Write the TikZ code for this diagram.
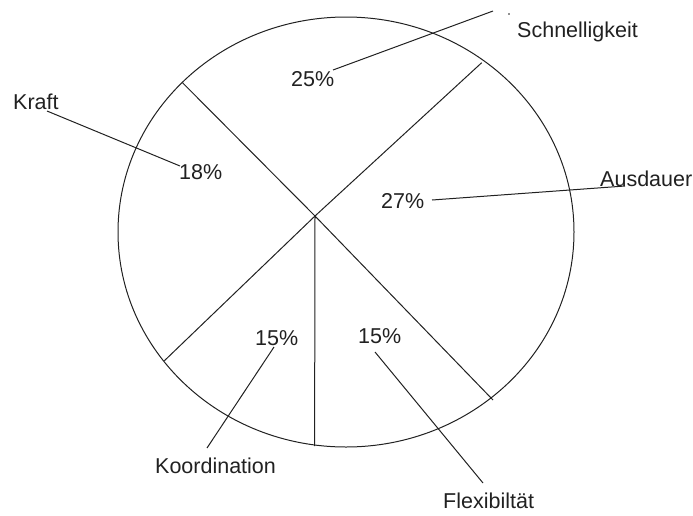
\documentclass[tikz,border=0pt]{standalone}
\usepackage{fontspec}
\setmainfont{Liberation Sans}
\usepackage{tikz}
\usetikzlibrary{positioning, calc}
\definecolor{inkgray}{rgb}{0.13,0.13,0.13}
\tikzstyle{lbl}=[%
      inner sep=0pt, anchor=base west, text=inkgray,
      font=\fontsize{21.5}{25}\selectfont
]
\tikzstyle{pct}=[%
      inner sep=0pt, anchor=base west, text=inkgray,
      font=\fontsize{21.5}{25}\selectfont
]
\tikzstyle{spoke}=[draw=inkgray, line width=1pt]
\tikzstyle{leader}=[draw=inkgray, line width=1pt]

\begin{document}
\begin{tikzpicture}[x=1pt, y=-1pt]
    \useasboundingbox (0,0) rectangle (693,515);

    % rim and spokes
    \draw[spoke] (346,232) ellipse [x radius=228pt, y radius=215pt];
    \coordinate (mid) at (315,216);
    \coordinate (rimNW) at (182.5,82.7);
    \coordinate (rimNE) at (481.7,62.7);
    \coordinate (rimSW) at (164.4,360.7);
    \coordinate (rimS)  at (314.6,446);
    \coordinate (rimSE) at (493,400);
    \path[spoke] (mid) -- (rimNW)
                 (mid) -- (rimNE)
                 (mid) -- (rimSW)
                 (mid) -- (rimS)
                 (mid) -- (rimSE);

    % percentages
    \node[pct] (schnellP) at (291,86)  {25\%};
    \node[pct] (kraftP)   at (179,179) {18\%};
    \node[pct] (ausdP)    at (381,208) {27\%};
    \node[pct] (koordP)   at (255,345) {15\%};
    \node[pct] (flexP)    at (358,343) {15\%};

    % labels
    \node[lbl] (schnell) at (517,37)  {Schnelligkeit};
    \node[lbl] (kraft)   at (13,109)  {Kraft};
    \node[lbl] (ausd)    at (600,186) {Ausdauer};
    \node[lbl] (koord)   at (155,473) {Koordination};
    \node[lbl] (flex)    at (443,508) {Flexibiltät};

    % leader ends
    \coordinate (schnellA) at (333,70);
    \coordinate (schnellB) at (493,11);
    \coordinate (kraftA)   at (180,166);
    \coordinate (kraftB)   at (47,111);
    \coordinate (ausdA)    at (432,200);
    \coordinate (ausdB)    at (625,186);
    \coordinate (koordA)   at (274,347);
    \coordinate (koordB)   at (207,448);
    \coordinate (flexA)    at (375,352);
    \coordinate (flexB)    at (483,483);

    \path[leader] (schnellA) -- (schnellB)
                  (kraftA)   -- (kraftB)
                  (ausdA)    -- (ausdB)
                  (koordA)   -- (koordB)
                  (flexA)    -- (flexB);
    \fill[inkgray] (509,14) circle (0.8pt);
\end{tikzpicture}
\end{document}
